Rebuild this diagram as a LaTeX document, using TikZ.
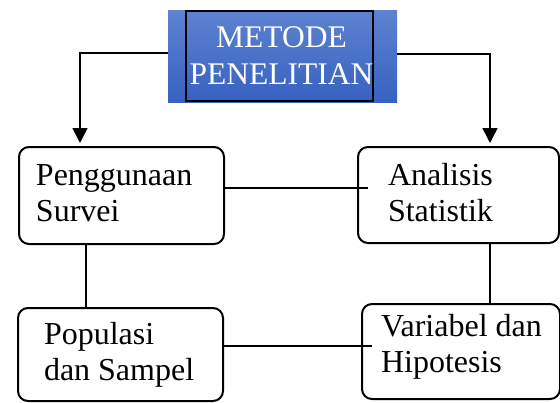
\documentclass[tikz,border=0pt]{standalone}
\usepackage{fontspec}
\setmainfont{Liberation Serif}
\usetikzlibrary{arrows.meta,calc}
\definecolor{bandtop}{RGB}{94,130,208}
\definecolor{bandbot}{RGB}{54,98,192}
\newcommand\boxlines[6]{\vbox to #2pt{\vskip #3pt\relax\hbox to #1pt{\hskip #4pt\relax\strut #5\hfil}\hbox to #1pt{\hskip #4pt\relax\strut #6\hfil}\vss}}
\begin{document}
\begin{tikzpicture}[x=1pt,y=-1pt,
  band/.style={rectangle, inner sep=0, top color=bandtop, bottom color=bandbot},
  titlebox/.style={rectangle, inner sep=0, draw=black, line width=2pt, top color=bandtop, bottom color=bandbot, text=white, align=center, font=\fontsize{31.5}{37}\selectfont},
  stepbox/.style={rectangle, rounded corners=10pt, draw=black, line width=2pt, fill=white, inner sep=0, anchor=north west, font=\fontsize{32}{36}\selectfont},
  conn/.style={draw=black, line width=1.5pt},
  arr/.style={conn, -{Triangle[length=15pt,width=15pt]}}]
\useasboundingbox (0,0) rectangle (560,402);
\node[band, minimum width=229pt, minimum height=92pt] (top) at (282.5,56) {};
\node[titlebox, minimum width=185pt, minimum height=90pt] (title) at (279.5,56) {\hspace*{4pt}METODE\\\hspace*{4pt}PENELITIAN};
\node[stepbox] (b1) at (18,146) {\boxlines{205}{97}{12.8}{17}{Penggunaan}{Survei}};
\node[stepbox] (b2) at (357,146) {\boxlines{201}{96}{12.8}{30}{Analisis}{Statistik}};
\node[stepbox] (b3) at (17,307) {\boxlines{205}{93}{10.8}{26}{Populasi}{dan Sampel}};
\node[stepbox] (b4) at (361,303) {\boxlines{198}{95}{6.8}{19}{Variabel dan}{Hipotesis}};
\draw[arr] ([yshift=3pt]top.west) -| ($(b1.north west)+(62pt,3pt)$);
\draw[arr] ([yshift=2pt]top.east) -| ($(b2.north west)+(133pt,3pt)$);
\draw[conn] ([yshift=7.5pt]b1.east) -- ($(b2.west)+(11pt,7pt)$);
\draw[conn] ([xshift=68pt]b1.south west) -- ([xshift=69pt]b3.north west);
\draw[conn] ([xshift=133pt]b2.south west) -- ([xshift=129pt]b4.north west);
\draw[conn] ([yshift=8.5pt]b3.east) -- ($(b4.west)+(11pt,5.5pt)$);
\end{tikzpicture}
\end{document}
